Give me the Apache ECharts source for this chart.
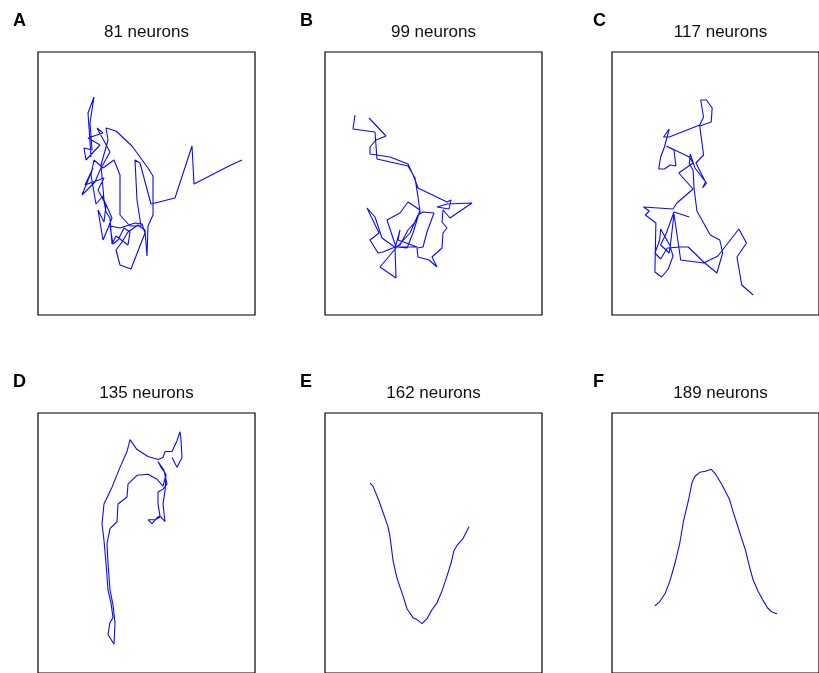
<!DOCTYPE html>
<html>
<head>
<meta charset="utf-8">
<script src="https://cdn.jsdelivr.net/npm/echarts@6/dist/echarts.min.js"></script>
<style>
  html, body { margin: 0; padding: 0; background: #fff; }
  #chart { width: 819px; height: 673px; }
</style>
</head>
<body>
<div id="chart"></div>
<script>
// Decoded latent trajectories for increasing population sizes
const neuronCounts = [81, 99, 117, 135, 162, 189];
const panelLetters = ['A', 'B', 'C', 'D', 'E', 'F'];

const trajA = [
  [53,158],[50,202],[56,218],[52,192],[54,165],[46,167],[48,155],[62,170],[50,177],[65,182],
  [59,187],[72,163],[62,145],[57,133],[44,120],[55,147],[47,130],[66,137],[60,125],[68,110],
  [66,93],[60,105],[65,75],[70,87],[74,97],[66,115],[63,150],[70,175],[68,187],[78,184],
  [94,169],[110,147],[115,139],[115,100],[110,89],[109,59],[107,85],[100,90],[90,83],[84,73],
  [78,65],[82,50],[93,46],[107,82],[104,91],[97,92],[82,87],[72,89],[75,71],[80,75],
  [86,87],[92,83],[90,70],[78,79],[74,71],[72,97],[68,103],[65,119],[58,111],[53,140],
  [56,155],[65,147],[76,155],[82,140],[82,100],[92,89],[103,89],[99,115],[97,155],[102,152],
  [113,111],[137,117],[154,169],[156,131],[189,148],[204,155]
];

const trajB = [
  [44,197],[61,179],[51,175],[45,168],[45,161],[52,160],[65,158],[83,151],[89,138],[93,127],
  [122,113],[126,115],[124,106],[112,108],[122,111],[147,112],[125,97],[118,105],[117,93],[122,87],
  [118,82],[117,67],[107,58],[112,48],[104,55],[93,58],[92,67],[98,68],[102,83],[109,102],
  [98,103],[93,100],[85,82],[72,68],[82,67],[88,82],[95,105],[83,113],[75,102],[62,95],
  [71,68],[92,68],[73,75],[75,85],[70,67],[71,37],[55,48],[71,67],[57,77],[50,98],
  [42,107],[54,82],[45,75],[53,62],[58,63],[75,70],[83,85],[91,94],[95,103],[93,118],
  [90,137],[83,149],[52,156],[50,183],[28,186],[30,200]
];

const trajC = [
  [81,98],[65,103],[57,82],[51,70],[60,62],[61,69],[51,86],[50,75],[45,62],[51,56],
  [58,67],[72,68],[80,68],[96,53],[110,42],[116,62],[113,75],[103,80],[89,104],[86,127],
  [85,145],[81,151],[82,161],[87,147],[99,132],[95,127],[98,133],[88,152],[96,160],[92,189],
  [104,193],[105,207],[99,215],[93,215],[96,198],[92,190],[60,178],[54,178],[60,186],[55,168],
  [51,158],[49,146],[55,146],[61,150],[67,149],[65,165],[57,169],[81,158],[85,152],[70,142],
  [85,126],[68,112],[64,106],[33,108],[39,104],[35,100],[46,92],[45,43],[52,38],[59,46],
  [64,59],[61,68],[65,101],[72,55],[96,52],[111,59],[133,86],[141,72],[131,58],[136,30],
  [148,20]
];

const trajD = [
  [134,218],[139,208],[144,218],[143,236],[142,244],[139,235],[134,224],[127,224],[125,218],[120,216],
  [110,219],[99,226],[92,236],[89,224],[82,208],[74,188],[66,171],[64,151],[66,134],[68,111],
  [70,84],[73,71],[75,56],[72,51],[70,39],[76,29],[77,51],[75,69],[72,84],[70,111],
  [69,131],[72,146],[79,153],[80,171],[89,178],[90,191],[99,200],[110,201],[119,196],[125,189],
  [128,201],[123,208],[120,214],[126,205],[129,191],[125,186],[120,183],[120,171],[122,159],[119,157],
  [114,151],[110,155],[117,155],[123,158],[127,153],[125,171],[127,184],[128,201]
];

const trajE = [
  [45,192],[48,189],[54,174],[63,148],[65,138],[68,114],[72,96],[78,78],[82,65],[88,56],
  [92,54],[97,50],[102,55],[107,64],[112,71],[117,83],[122,98],[126,111],[129,124],[132,129],
  [138,136],[144,148]
];

const trajF = [
  [45,68],[50,72],[56,81],[61,94],[66,111],[71,131],[75,154],[80,174],[84,193],[87,199],
  [92,203],[98,204],[104,206],[108,202],[115,191],[123,176],[127,163],[131,151],[136,136],[140,124],
  [144,108],[148,94],[153,83],[158,74],[163,66],[167,62],[173,60]
];

const trajectories = [trajA, trajB, trajC, trajD, trajE, trajF];

// Panel frame geometry (2 rows x 3 columns)
const colLeft = [38, 325, 612];
const rowTop = [52, 413];
const boxW = 217, boxH = 263;
const font = '"Liberation Sans", Arial, Helvetica, sans-serif';

const grids = [], xAxes = [], yAxes = [], series = [], graphics = [];
trajectories.forEach((traj, i) => {
  const col = i % 3, row = Math.floor(i / 3);
  const left = colLeft[col], top = rowTop[row];
  grids.push({
    left: left, top: top, width: boxW, height: boxH,
    show: true, borderColor: '#000', borderWidth: 1.2, backgroundColor: 'transparent'
  });
  xAxes.push({ type: 'value', gridIndex: i, min: 0, max: boxW, show: false });
  yAxes.push({ type: 'value', gridIndex: i, min: 0, max: boxH, show: false });
  series.push({
    type: 'line', xAxisIndex: i, yAxisIndex: i, data: traj,
    showSymbol: false, smooth: false, silent: true, animation: false,
    lineStyle: { color: '#0a0aff', width: 1.1 }
  });
  graphics.push({
    type: 'text', x: left + boxW / 2, y: top - 20,
    style: {
      text: neuronCounts[i] + ' neurons', fill: '#111',
      font: '17px ' + font, textAlign: 'center', textVerticalAlign: 'middle'
    }
  });
  graphics.push({
    type: 'text', x: [13, 300, 593][col], y: top - 31,
    style: {
      text: panelLetters[i], fill: '#000',
      font: 'bold 18px ' + font, textAlign: 'left', textVerticalAlign: 'middle'
    }
  });
});

const chart = echarts.init(document.getElementById('chart'), null, { renderer: 'canvas' });
chart.setOption({
  animation: false,
  backgroundColor: '#ffffff',
  grid: grids,
  xAxis: xAxes,
  yAxis: yAxes,
  series: series,
  graphic: graphics
});
</script>
</body>
</html>
